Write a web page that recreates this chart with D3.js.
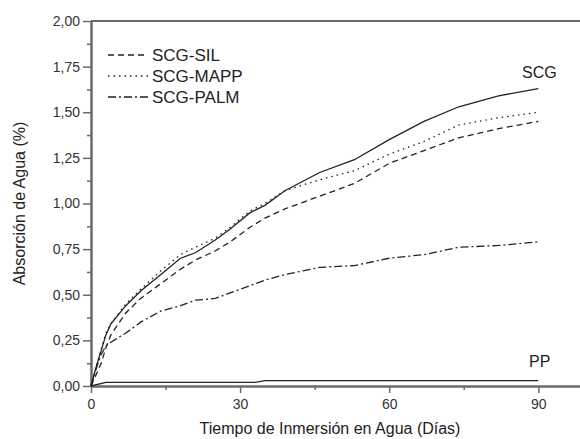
<!DOCTYPE html>
<html>
<head>
<meta charset="utf-8">
<script src="https://cdn.jsdelivr.net/npm/d3@7"></script>
<style>
  body { margin: 0; background: #fff; }
  svg { display: block; font-family: "Liberation Sans", Arial, sans-serif; }
</style>
</head>
<body>
<svg id="chart" width="580" height="439"></svg>
<script>
// Data
const days = [0, 1, 2, 3, 4, 7, 10, 14, 18, 21, 25, 28, 32, 35, 39, 46, 53, 60, 67, 74, 82, 90]
const scg  = [0, 0.10, 0.19, 0.28, 0.34, 0.44, 0.52, 0.61, 0.70, 0.73, 0.80, 0.86, 0.95, 0.99, 1.07, 1.17, 1.24, 1.35, 1.45, 1.53, 1.59, 1.63]
const mapp = [0, 0.10, 0.20, 0.29, 0.34, 0.45, 0.53, 0.63, 0.72, 0.76, 0.81, 0.87, 0.96, 1.00, 1.07, 1.13, 1.18, 1.27, 1.34, 1.43, 1.47, 1.50]
const sil  = [0, 0.06, 0.12, 0.21, 0.28, 0.40, 0.48, 0.56, 0.64, 0.69, 0.74, 0.79, 0.87, 0.92, 0.97, 1.04, 1.11, 1.22, 1.29, 1.36, 1.41, 1.45]
const palm = [0, 0.09, 0.17, 0.22, 0.24, 0.29, 0.35, 0.41, 0.44, 0.47, 0.48, 0.51, 0.55, 0.58, 0.61, 0.65, 0.66, 0.70, 0.72, 0.76, 0.77, 0.79]
const ppDays = [0, 3, 33, 35, 90]
const pp     = [0, 0.02, 0.02, 0.03, 0.03]

const xMajor = [0, 30, 60, 90]
const xMinor = [15, 45, 75]
const yMajor = d3.range(0, 2.01, 0.25)
const yMinor = d3.range(0.125, 2, 0.25)

const legendItems = [
  { name: 'SCG-SIL', dash: '6,4' },
  { name: 'SCG-MAPP', dash: '1.5,4' },
  { name: 'SCG-PALM', dash: '8,3,2,3' }
]

// Setup
const svg = d3.select('#chart')
const axisColor = '#6b6b6b'
const lineColor = '#222'

const x = d3.scaleLinear().domain([0, 100]).range([91, 588])
const y = d3.scaleLinear().domain([0, 2]).range([386, 21])

const es = d3.formatLocale({ decimal: ',', thousands: '.', grouping: [3], currency: ['', ''] })
const fmt = es.format('.2f')

// Top frame line
svg.append('line')
  .attr('x1', x(0)).attr('x2', x(100))
  .attr('y1', y(2)).attr('y2', y(2))
  .attr('stroke', axisColor).attr('stroke-width', 2)

// Axes
function styleAxis(g) {
  g.select('.domain').attr('stroke', axisColor).attr('stroke-width', 2)
  g.selectAll('.tick line').attr('stroke', axisColor).attr('stroke-width', 1.5)
  g.selectAll('.tick text').attr('fill', '#333').style('font-size', '14px')
}

svg.append('g')
  .attr('transform', `translate(0,${y(0)})`)
  .call(d3.axisBottom(x).tickValues(xMinor).tickSize(4).tickFormat('').tickSizeOuter(0))
  .call(styleAxis)
svg.append('g')
  .attr('transform', `translate(0,${y(0)})`)
  .call(d3.axisBottom(x).tickValues(xMajor).tickSize(7).tickPadding(6).tickSizeOuter(0))
  .call(styleAxis)

svg.append('g')
  .attr('transform', `translate(${x(0)},0)`)
  .call(d3.axisLeft(y).tickValues(yMinor).tickSize(4).tickFormat('').tickSizeOuter(0))
  .call(styleAxis)
svg.append('g')
  .attr('transform', `translate(${x(0)},0)`)
  .call(d3.axisLeft(y).tickValues(yMajor).tickSize(8).tickPadding(3).tickFormat(fmt).tickSizeOuter(0))
  .call(styleAxis)

// Axis titles
svg.append('text')
  .attr('x', 330).attr('y', 434)
  .attr('text-anchor', 'middle')
  .attr('fill', '#222')
  .style('font-size', '16px')
  .text('Tiempo de Inmersión en Agua (Días)')

svg.append('text')
  .attr('transform', `translate(25,${(y(0) + y(2)) / 2}) rotate(-90)`)
  .attr('text-anchor', 'middle')
  .attr('fill', '#222')
  .style('font-size', '16px')
  .text('Absorción de Agua (%)')

// Lines
const line = d3.line()
  .x(d => x(d[0]))
  .y(d => y(d[1]))

const series = [
  { values: scg, dash: null },
  { values: mapp, dash: '1.5,4' },
  { values: sil, dash: '6,4' },
  { values: palm, dash: '8,3,2,3' }
]

svg.selectAll('path.series')
  .data(series)
  .enter()
  .append('path')
    .attr('class', 'series')
    .attr('d', s => line(days.map((d, i) => [d, s.values[i]])))
    .attr('fill', 'none')
    .attr('stroke', lineColor)
    .attr('stroke-width', 1.3)
    .attr('stroke-dasharray', s => s.dash)

svg.append('path')
  .attr('d', line(ppDays.map((d, i) => [d, pp[i]])))
  .attr('fill', 'none')
  .attr('stroke', lineColor)
  .attr('stroke-width', 1.3)

// Curve labels
svg.append('text')
  .attr('x', 522).attr('y', 78)
  .attr('fill', '#222')
  .style('font-size', '16px')
  .text('SCG')
svg.append('text')
  .attr('x', 529).attr('y', 367)
  .attr('fill', '#222')
  .style('font-size', '16px')
  .text('PP')

// Legend
const legend = svg.append('g')
const legend_rows = legend.selectAll('g')
  .data(legendItems)
  .enter()
  .append('g')
    .attr('transform', (d, i) => `translate(0,${55 + i * 21})`)
legend_rows.append('line')
  .attr('x1', 108).attr('x2', 148)
  .attr('y1', 0).attr('y2', 0)
  .attr('stroke', lineColor)
  .attr('stroke-width', 1.3)
  .attr('stroke-dasharray', d => d.dash)
legend_rows.append('text')
  .attr('x', 152).attr('y', 6)
  .attr('fill', '#222')
  .style('font-size', '17px')
  .text(d => d.name)
</script>
</body>
</html>
